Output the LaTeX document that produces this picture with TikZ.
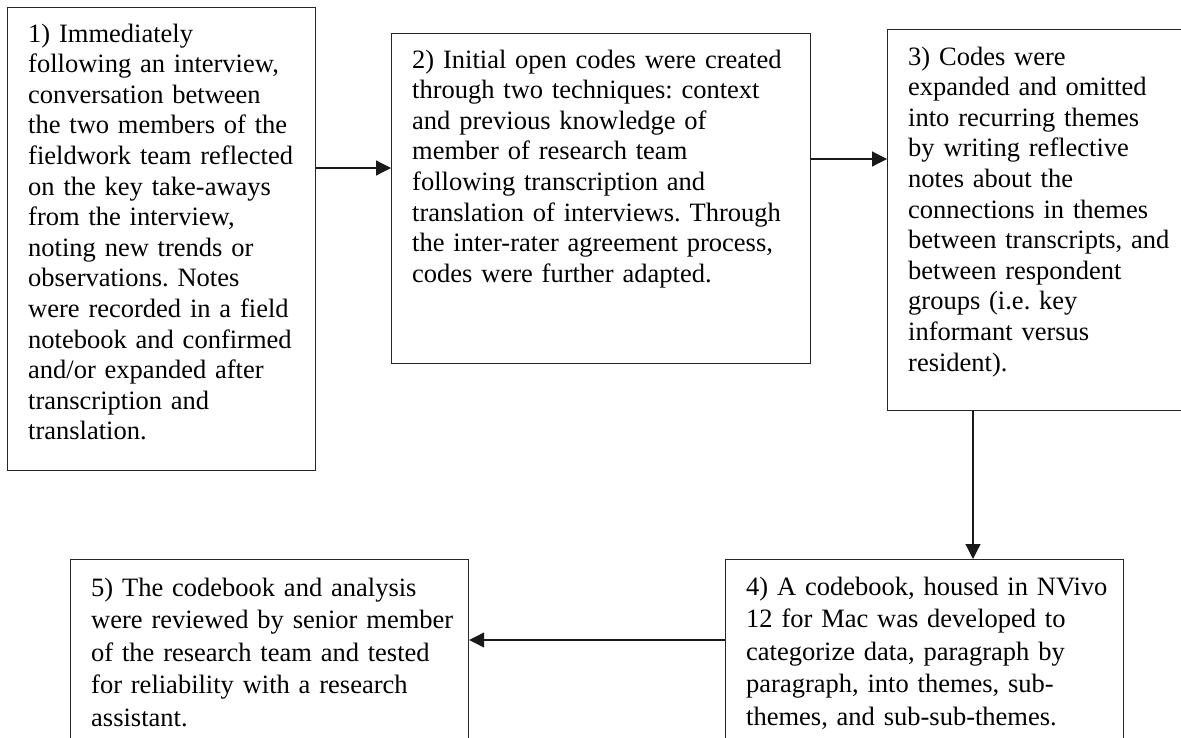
\documentclass[tikz,border=0pt]{standalone}
\usepackage{fontspec}
\setmainfont{Liberation Serif}
\usetikzlibrary{arrows.meta}
\frenchspacing
\begin{document}
\begin{tikzpicture}[x=1pt,y=-1pt,
  box/.style={draw=black!85, line width=1.2pt, inner sep=0pt, anchor=north west, rectangle},
  txt/.style={anchor=base west, inner sep=0pt, text width=600pt, align=left,
    font=\fontsize{26.5}{30.6}\selectfont\frenchspacing},
  txtb/.style={txt, font=\fontsize{26.5}{32.5}\selectfont\frenchspacing},
  arr/.style={line width=1.2pt, draw=black!90, -{Triangle[length=15pt,width=15pt]}}]
\useasboundingbox (0,0) rectangle (1181,737);
% boxes
\node[box, minimum width=308pt, minimum height=463pt] (b1) at (7,7) {};
\node[box, minimum width=419pt, minimum height=330pt] (b2) at (391,33) {};
\node[box, minimum width=303pt, minimum height=381pt] (b3) at (887,29) {};
\node[box, minimum width=398pt, minimum height=200pt] (b4) at (725,559) {};
\node[box, minimum width=398pt, minimum height=200pt] (b5) at (70,559) {};
% texts
\node[txt] (t1) at (28,42) {1) Immediately\\following an interview,\\conversation between\\the two members of the\\fieldwork team reflected\\on the key take-aways\\from the interview,\\noting new trends or\\observations. Notes\\were recorded in a field\\notebook and confirmed\\and/or expanded after\\transcription and\\translation.};
\node[txt] (t2) at (412,68) {2) Initial open codes were created\\through two techniques: context\\and previous knowledge of\\member of research team\\following transcription and\\translation of interviews. Through\\the inter-rater agreement process,\\codes were further adapted.};
\node[txt] (t3) at (908,65) {3) Codes were\\expanded and omitted\\into recurring themes\\by writing reflective\\notes about the\\connections in themes\\between transcripts, and\\between respondent\\groups (i.e. key\\informant versus\\resident).};
\node[txtb] (t4) at (746,595) {4) A codebook, housed in NVivo\\12 for Mac was developed to\\categorize data, paragraph by\\paragraph, into themes, sub-\\themes, and sub-sub-themes.};
\node[txtb] (t5) at (91,596) {5) The codebook and analysis\\were reviewed by senior member\\of the research team and tested\\for reliability with a research\\assistant.};
% connector levels
\coordinate (y12) at (0,168);
\coordinate (y23) at (0,159);
\coordinate (x34) at (973,0);
\coordinate (y45) at (0,640);
\draw[arr] (b1.east |- y12) -- (b2.west |- y12);
\draw[arr] (b2.east |- y23) -- (b3.west |- y23);
\draw[arr] (b3.south -| x34) -- (b4.north -| x34);
\draw[arr] (b4.west |- y45) -- (b5.east |- y45);
\end{tikzpicture}
\end{document}
